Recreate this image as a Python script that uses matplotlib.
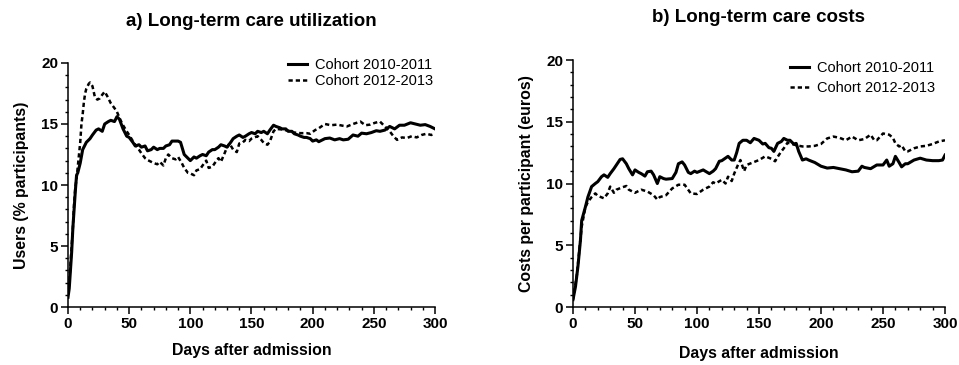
import numpy as np
import matplotlib
matplotlib.use("Agg")
import matplotlib.pyplot as plt
from matplotlib.ticker import MultipleLocator

plt.rcParams['font.family'] = ['Liberation Sans', 'DejaVu Sans']

# a) users, cohort 2010-2011
util_a_days = [0, 1, 2, 3, 4, 5, 6, 7, 8, 10,
               12, 15, 18, 20, 23, 25, 28, 30, 33, 35,
               38, 40, 42, 45, 48, 50, 53, 55, 58, 60,
               63, 65, 68, 70, 73, 75, 78, 80, 83, 85,
               88, 90, 92, 95, 98, 100, 103, 105, 108, 110,
               113, 115, 118, 120, 123, 125, 128, 130, 133, 135,
               138, 140, 143, 145, 148, 150, 153, 155, 158, 160,
               163, 165, 168, 170, 173, 175, 178, 180, 183, 185,
               188, 190, 193, 195, 198, 200, 203, 205, 210, 214,
               218, 222, 225, 229, 233, 237, 240, 244, 248, 252,
               255, 259, 263, 267, 271, 275, 280, 284, 288, 292,
               296, 300]
util_a_vals = [0.8, 1.5, 3.0, 4.5, 6.5, 8.0, 9.5, 10.8, 11.0, 11.8,
               12.9, 13.5, 13.8, 14.1, 14.5, 14.6, 14.4, 15.0, 15.2, 15.3,
               15.2, 15.6, 15.4, 14.6, 14.0, 13.9, 13.5, 13.2, 13.3, 13.1,
               13.2, 12.8, 12.9, 13.1, 12.9, 13.0, 13.0, 13.2, 13.3, 13.6,
               13.6, 13.6, 13.5, 12.5, 12.2, 12.0, 12.3, 12.2, 12.4, 12.5,
               12.4, 12.7, 12.9, 12.9, 13.1, 13.3, 13.2, 13.1, 13.5, 13.8,
               14.0, 14.1, 13.9, 14.0, 14.2, 14.3, 14.2, 14.4, 14.3, 14.4,
               14.2, 14.5, 14.9, 14.8, 14.7, 14.6, 14.6, 14.4, 14.4, 14.2,
               14.1, 14.0, 13.9, 13.9, 13.8, 13.6, 13.7, 13.55, 13.8, 13.85,
               13.7, 13.8, 13.7, 13.75, 14.1, 14.0, 14.25, 14.2, 14.3, 14.45,
               14.4, 14.5, 14.8, 14.6, 14.9, 14.9, 15.1, 15.0, 14.9, 14.95,
               14.8, 14.6]

# a) users, cohort 2012-2013
util_b_days = [0, 1, 2, 3, 4, 5, 6, 7, 8, 9,
               10, 11, 12, 13, 14, 15, 17, 18, 20, 22,
               24, 26, 28, 30, 32, 35, 38, 40, 43, 45,
               48, 50, 53, 55, 58, 60, 63, 65, 68, 70,
               73, 75, 78, 80, 82, 85, 88, 90, 93, 95,
               98, 100, 103, 105, 108, 110, 113, 115, 118, 120,
               123, 125, 128, 130, 132, 135, 138, 140, 143, 145,
               148, 150, 155, 158, 160, 163, 165, 168, 170, 175,
               180, 185, 190, 195, 198, 202, 205, 210, 215, 220,
               225, 228, 233, 239, 243, 247, 251, 255, 259, 263,
               266, 269, 273, 277, 281, 285, 289, 293, 297, 300]
util_b_vals = [1.0, 2.0, 3.5, 5.0, 6.5, 8.5, 9.8, 10.5, 11.5, 12.5,
               13.5, 15.0, 15.8, 16.8, 17.5, 17.9, 18.3, 18.4, 18.1, 17.2,
               17.0, 17.1, 17.4, 17.65, 17.3, 16.7, 16.3, 16.0, 15.3, 14.9,
               14.4, 14.1, 13.6, 13.3, 12.9, 12.6, 12.2, 12.05, 11.9, 11.8,
               11.7, 11.9, 11.6, 12.2, 12.5, 12.2, 12.1, 12.3, 11.8, 11.4,
               11.0, 10.95, 10.8, 11.2, 11.3, 11.6, 12.0, 11.4, 11.5, 11.8,
               12.2, 11.9, 12.6, 13.1, 13.4, 12.9, 12.7, 13.4, 13.5, 13.7,
               13.6, 13.8, 14.0, 13.7, 13.45, 13.3, 13.55, 14.4, 14.6, 14.55,
               14.45, 14.3, 14.25, 14.25, 14.2, 14.5, 14.65, 15.0, 14.9, 14.95,
               14.85, 14.8, 15.0, 15.2, 14.9, 14.95, 15.1, 15.2, 14.8, 14.4,
               14.0, 13.7, 13.9, 13.85, 14.0, 13.9, 14.1, 14.2, 14.1, 14.2]

# b) costs, cohort 2010-2011
cost_a_days = [0, 2, 4, 6, 7, 10, 12, 15, 18, 20,
               23, 25, 28, 30, 33, 35, 38, 40, 43, 45,
               48, 50, 53, 55, 58, 60, 63, 65, 68, 70,
               73, 75, 80, 83, 85, 88, 90, 93, 95, 98,
               100, 105, 110, 113, 115, 118, 120, 125, 128, 130,
               132, 134, 137, 140, 143, 146, 150, 153, 155, 158,
               160, 162, 165, 168, 170, 173, 175, 178, 180, 182,
               185, 188, 190, 195, 200, 205, 210, 215, 220, 225,
               230, 233, 235, 240, 245, 250, 253, 255, 258, 260,
               263, 265, 268, 270, 275, 280, 285, 290, 295, 298,
               300]
cost_a_vals = [0.6, 1.65, 3.3, 5.4, 7.0, 8.1, 8.9, 9.75, 10.0, 10.15,
               10.55, 10.7, 10.5, 10.8, 11.2, 11.5, 11.95, 12.0, 11.6, 11.2,
               10.7, 11.1, 10.9, 10.8, 10.6, 10.95, 11.0, 10.7, 10.0, 10.55,
               10.4, 10.35, 10.4, 10.9, 11.6, 11.75, 11.5, 10.9, 10.8, 11.0,
               10.9, 11.1, 10.8, 11.0, 11.2, 11.8, 11.85, 12.2, 11.9, 11.9,
               12.5, 13.25, 13.5, 13.5, 13.3, 13.65, 13.5, 13.2, 13.25, 12.9,
               12.85, 12.6, 13.25, 13.4, 13.65, 13.5, 13.5, 13.2, 13.25, 12.6,
               11.9, 12.0, 11.9, 11.7, 11.4, 11.25, 11.3, 11.2, 11.1, 10.95,
               11.0, 11.4, 11.3, 11.2, 11.5, 11.5, 11.9, 11.4, 11.6, 12.2,
               11.7, 11.35, 11.6, 11.6, 11.9, 12.05, 11.9, 11.85, 11.85, 11.9,
               12.3]

# b) costs, cohort 2012-2013
cost_b_days = [0, 3, 5, 7, 10, 12, 15, 18, 20, 25,
               28, 30, 33, 35, 40, 43, 45, 50, 55, 60,
               65, 68, 70, 75, 80, 85, 90, 95, 100, 105,
               110, 113, 115, 120, 123, 125, 128, 130, 133, 135,
               138, 140, 145, 150, 155, 160, 163, 165, 168, 170,
               173, 175, 180, 185, 190, 195, 200, 205, 210, 215,
               220, 225, 230, 235, 240, 243, 245, 250, 255, 258,
               260, 263, 265, 268, 270, 275, 280, 285, 290, 295,
               300]
cost_b_vals = [0.6, 2.5, 4.5, 6.5, 8.1, 8.5, 8.9, 9.2, 9.0, 8.8,
               9.2, 9.75, 9.25, 9.5, 9.7, 9.8, 9.5, 9.25, 9.5, 9.35,
               9.05, 8.7, 8.9, 9.05, 9.6, 9.9, 9.9, 9.2, 9.15, 9.5,
               9.75, 10.1, 10.0, 10.3, 10.0, 10.55, 10.2, 10.8, 11.5, 11.9,
               11.0, 11.5, 11.7, 11.9, 12.2, 12.0, 11.8, 12.15, 12.6, 12.85,
               13.3, 13.25, 13.1, 13.0, 13.0, 13.05, 13.2, 13.65, 13.8, 13.7,
               13.5, 13.8, 13.5, 13.6, 13.95, 13.5, 13.5, 14.05, 13.95, 13.7,
               13.25, 13.0, 13.1, 12.6, 12.6, 12.85, 13.0, 13.05, 13.2, 13.4,
               13.5]

legend_labels = ["Cohort 2010-2011", "Cohort 2012-2013"]
x_ticks = [0, 50, 100, 150, 200, 250, 300]
y_ticks = [0, 5, 10, 15, 20]

fig = plt.figure(figsize=(9.59, 3.65), dpi=100)
ax1 = fig.add_axes([0.0709, 0.1589, 0.3827, 0.6685])
ax2 = fig.add_axes([0.5975, 0.1589, 0.3879, 0.6767])

panels = [
    (ax1, util_a_days, util_a_vals, util_b_days, util_b_vals,
     "Users (% participants)", (0.60, 1.02), 0.16),
    (ax2, cost_a_days, cost_a_vals, cost_b_days, cost_b_vals,
     "Costs per participant (euros)", (0.583, 0.996), 0.44),
]

for ax, da, va, db, vb, ylab, leg_xy, lspace in panels:
    ax.plot(da, va, color="black", lw=2.2, label=legend_labels[0])
    ax.plot(db, vb, color="black", lw=1.8, ls=(0, (1.7, 1.2)),
            label=legend_labels[1])
    ax.set_xlim(0, 300)
    ax.set_ylim(0, 20)
    ax.set_xticks(x_ticks)
    ax.set_yticks(y_ticks)
    ax.xaxis.set_minor_locator(MultipleLocator(10))
    ax.yaxis.set_minor_locator(MultipleLocator(1))
    for s in ["top", "right"]:
        ax.spines[s].set_visible(False)
    for s in ["left", "bottom"]:
        ax.spines[s].set_linewidth(1.1)
    ax.tick_params(which="major", direction="out", length=5, width=1.1,
                   labelsize=11, pad=2)
    ax.tick_params(which="minor", direction="out", length=2.5, width=1.0)
    for lbl in ax.get_xticklabels() + ax.get_yticklabels():
        lbl.set_fontweight("bold")
    ax.set_ylabel(ylab, fontsize=11.4, fontweight="bold", va="center")
    ax.set_xlabel("Days after admission", fontsize=11.4, fontweight="bold",
                  va="center")
    ax.legend(loc="upper left", bbox_to_anchor=leg_xy, frameon=False,
              fontsize=10.5, handlelength=1.3, handletextpad=0.55,
              borderpad=0, borderaxespad=0, labelspacing=lspace)

ax1.yaxis.set_label_coords(-0.128, 0.5)
ax2.yaxis.set_label_coords(-0.124, 0.5)
ax1.xaxis.set_label_coords(0.5, -0.178)
ax2.xaxis.set_label_coords(0.5, -0.19)

fig.text(251 / 959, 1 - 21 / 365, "a) Long-term care utilization",
         ha="center", va="center", fontsize=13.5, fontweight="bold")
fig.text(759 / 959, 1 - 18 / 365, "b) Long-term care costs",
         ha="center", va="center", fontsize=13.5, fontweight="bold")

fig.savefig("out.png", dpi=100)
